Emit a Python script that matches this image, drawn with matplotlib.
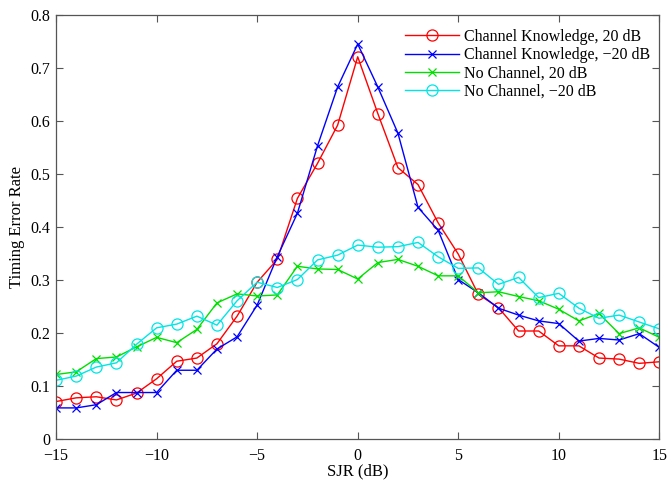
import numpy as np
import matplotlib
matplotlib.use("Agg")
import matplotlib.pyplot as plt
from matplotlib.ticker import FuncFormatter

sjr = np.arange(-15, 16)

ck_20 = [0.071, 0.078, 0.080, 0.074, 0.087, 0.114, 0.147, 0.153, 0.180, 0.232,
         0.296, 0.339, 0.454, 0.520, 0.592, 0.721, 0.614, 0.512, 0.480, 0.408,
         0.349, 0.273, 0.248, 0.204, 0.204, 0.176, 0.176, 0.153, 0.151, 0.143,
         0.146]
ck_m20 = [0.059, 0.059, 0.065, 0.088, 0.088, 0.088, 0.130, 0.130, 0.170, 0.193,
          0.253, 0.344, 0.426, 0.553, 0.664, 0.745, 0.664, 0.577, 0.437, 0.394,
          0.301, 0.276, 0.247, 0.234, 0.223, 0.218, 0.185, 0.190, 0.187, 0.199,
          0.173]
nc_20 = [0.122, 0.127, 0.152, 0.155, 0.174, 0.192, 0.182, 0.207, 0.257, 0.274,
         0.270, 0.272, 0.326, 0.321, 0.320, 0.302, 0.333, 0.339, 0.326, 0.308,
         0.308, 0.276, 0.278, 0.269, 0.261, 0.245, 0.223, 0.237, 0.199, 0.210,
         0.192]
nc_m20 = [0.111, 0.119, 0.136, 0.144, 0.179, 0.210, 0.217, 0.232, 0.215, 0.261,
          0.296, 0.286, 0.301, 0.338, 0.347, 0.366, 0.362, 0.363, 0.371, 0.344,
          0.322, 0.323, 0.292, 0.305, 0.267, 0.275, 0.247, 0.228, 0.234, 0.221,
          0.208]

labels = ["Channel Knowledge, 20 dB", "Channel Knowledge, \u221220 dB",
          "No Channel, 20 dB", "No Channel, \u221220 dB"]

plt.rcParams["font.family"] = ["Liberation Serif", "DejaVu Serif"]
plt.rcParams["axes.unicode_minus"] = True

fig = plt.figure(figsize=(6.68, 4.8), dpi=100)
ax = fig.add_axes([0.084, 0.085, 0.903, 0.884])

ax.plot(sjr, ck_20, color="#ff0000", marker="o", ms=8, mfc="none", mew=0.9, lw=1.0, label=labels[0])
ax.plot(sjr, ck_m20, color="#0000ff", marker="x", ms=6, mew=0.9, lw=1.0, label=labels[1])
ax.plot(sjr, nc_20, color="#00e000", marker="x", ms=6, mew=0.9, lw=1.0, label=labels[2])
ax.plot(sjr, nc_m20, color="#00e5e5", marker="o", ms=8, mfc="none", mew=0.9, lw=1.0, label=labels[3])

ax.set_xlim(-15, 15)
ax.set_ylim(0, 0.8)
ax.set_xticks(np.arange(-15, 16, 5))
ax.set_yticks(np.arange(0, 0.81, 0.1))
ax.yaxis.set_major_formatter(FuncFormatter(lambda v, p: "0" if abs(v) < 1e-9 else f"{v:.1f}"))
ax.xaxis.set_major_formatter(FuncFormatter(lambda v, p: f"{int(round(v))}".replace("-", "\u2212")))

for s in ax.spines.values():
    s.set_color("#555555")
    s.set_linewidth(0.9)
ax.tick_params(direction="in", top=True, right=True, length=5, width=0.8,
               color="#555555", labelsize=11.5)
ax.tick_params(axis="x", pad=6)
ax.tick_params(axis="y", pad=4)

ax.set_xlabel("SJR (dB)", fontsize=12, labelpad=0)
ax.set_ylabel("Timing Error Rate", fontsize=12, labelpad=4)

ax.legend(loc="upper right", frameon=False, fontsize=11.5, handlelength=3.4,
          handletextpad=0.3, labelspacing=0.15, borderaxespad=0.2,
          bbox_to_anchor=(1.0, 0.99))

fig.savefig("out.png", dpi=100)
